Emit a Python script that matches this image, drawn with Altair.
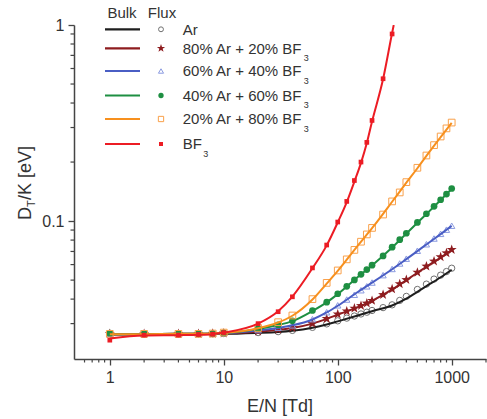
import altair as alt
import pandas as pd

# ---------------- data ----------------
X_FLUX = [1, 2, 4, 6, 8, 10, 20, 30, 40, 60, 80, 100, 120, 140, 160, 180, 200,
          250, 300, 350, 400, 500, 600, 700, 800, 900, 1000]
AR_FLUX = [0.0267, 0.0266, 0.0266, 0.0266, 0.0266, 0.0267, 0.0270, 0.0273, 0.0277, 0.0287,
           0.0299, 0.0310, 0.0320, 0.0328, 0.0336, 0.0343, 0.0350, 0.0362, 0.0374, 0.0394,
           0.0413, 0.0448, 0.0477, 0.0506, 0.0530, 0.0553, 0.0575]
AR80_FLUX = [0.0266, 0.0266, 0.0266, 0.0266, 0.0267, 0.0268, 0.0274, 0.0280, 0.0286, 0.0300,
             0.0318, 0.0335, 0.0347, 0.0359, 0.0370, 0.0381, 0.0393, 0.0421, 0.0450, 0.0478,
             0.0502, 0.0547, 0.0588, 0.0624, 0.0656, 0.0687, 0.0715]
AR60_FLUX = [0.0266, 0.0266, 0.0266, 0.0266, 0.0267, 0.0268, 0.0278, 0.0286, 0.0294, 0.0316,
             0.0343, 0.0372, 0.0398, 0.0421, 0.0444, 0.0465, 0.0486, 0.0530, 0.0570, 0.0608,
             0.0643, 0.0706, 0.0762, 0.0815, 0.0861, 0.0904, 0.0947]
AR40_FLUX = [0.0268, 0.0266, 0.0266, 0.0266, 0.0267, 0.0269, 0.0283, 0.0296, 0.0310, 0.0350,
             0.0386, 0.0426, 0.0465, 0.0501, 0.0535, 0.0566, 0.0596, 0.0664, 0.0736, 0.0804,
             0.0867, 0.0984, 0.1090, 0.1190, 0.1285, 0.1374, 0.1466]
AR20_FLUX = [0.0266, 0.0266, 0.0266, 0.0266, 0.0267, 0.0270, 0.0285, 0.0305, 0.0330, 0.0400,
             0.0484, 0.0560, 0.0638, 0.0713, 0.0785, 0.0855, 0.0923, 0.1080, 0.1260, 0.1400,
             0.1580, 0.1870, 0.2160, 0.2440, 0.2700, 0.2970, 0.3180]
X_FLUX_BF3 = [1, 2, 4, 6, 8, 10, 20, 30, 40, 60, 80, 100, 120, 140, 160, 180, 200, 250, 300]
BF3_FLUX = [0.0247, 0.0262, 0.0262, 0.0264, 0.0265, 0.0270, 0.0300, 0.0345, 0.0411, 0.0577,
            0.0755, 0.0989, 0.126, 0.161, 0.200, 0.252, 0.326, 0.532, 0.900]

X_BULK = [1, 2, 4, 6, 8, 10, 20, 30, 40, 60, 80, 100, 150, 200, 300, 400, 500, 600, 800, 1000]
AR_BULK = [0.0264, 0.0265, 0.0265, 0.0265, 0.0266, 0.0266, 0.0269, 0.0272, 0.0276, 0.0286,
           0.0297, 0.0308, 0.0330, 0.0347, 0.0371, 0.0402, 0.0436, 0.0466, 0.0517, 0.0565]
AR80_BULK = [0.0265, 0.0265, 0.0266, 0.0266, 0.0266, 0.0267, 0.0273, 0.0279, 0.0285, 0.0300,
             0.0317, 0.0333, 0.0364, 0.0392, 0.0448, 0.0500, 0.0545, 0.0585, 0.0652, 0.0712]
AR60_BULK = [0.0265, 0.0265, 0.0266, 0.0266, 0.0266, 0.0268, 0.0277, 0.0285, 0.0294, 0.0315,
             0.0342, 0.0370, 0.0435, 0.0485, 0.0568, 0.0640, 0.0703, 0.0760, 0.0858, 0.0945]
AR40_BULK = [0.0265, 0.0265, 0.0266, 0.0266, 0.0267, 0.0268, 0.0282, 0.0295, 0.0309, 0.0348,
             0.0385, 0.0424, 0.0518, 0.0594, 0.0733, 0.0863, 0.0980, 0.1085, 0.1280, 0.1460]
AR20_BULK = [0.0265, 0.0265, 0.0266, 0.0266, 0.0267, 0.0269, 0.0284, 0.0304, 0.0329, 0.0398,
             0.0480, 0.0557, 0.0750, 0.0920, 0.1255, 0.1570, 0.1860, 0.2150, 0.2680, 0.3170]
X_BULK_BF3 = [1, 2, 4, 6, 8, 10, 20, 30, 40, 60, 80, 100, 120, 140, 160, 180, 200, 250, 300, 310]
BF3_BULK = [0.0252, 0.0261, 0.0262, 0.0263, 0.0265, 0.0270, 0.0300, 0.0347, 0.0412, 0.0575,
            0.0752, 0.0985, 0.125, 0.159, 0.198, 0.250, 0.322, 0.530, 0.910, 1.000]

LABELS = ["Ar", "80% Ar + 20% BF", "60% Ar + 40% BF", "40% Ar + 60% BF", "20% Ar + 80% BF", "BF"]
X_TICKS = [1, 10, 100, 1000]
X_MINOR = [0.6, 0.7, 0.8, 0.9, 2, 3, 4, 5, 6, 7, 8, 9, 20, 30, 40, 50, 60, 70, 80, 90,
           200, 300, 400, 500, 600, 700, 800, 900, 2000]
Y_TICKS = [0.1, 1]
Y_MINOR = [0.03, 0.04, 0.05, 0.06, 0.07, 0.08, 0.09, 0.2, 0.3, 0.4, 0.5, 0.6, 0.7, 0.8, 0.9]

# ---------------- styling ----------------
STAR = ("M0,-1L0.235,-0.324L0.951,-0.309L0.38,0.124L0.588,0.809L0,0.4L-0.588,0.809"
        "L-0.38,0.124L-0.951,-0.309L-0.235,-0.324Z")
SERIES = [
    dict(bx=X_BULK, by=AR_BULK, fx=X_FLUX, fy=AR_FLUX, line="#1e1e1e", pc="#707070",
         shape="circle", filled=False, size=40, lsize=24),
    dict(bx=X_BULK, by=AR80_BULK, fx=X_FLUX, fy=AR80_FLUX, line="#8e1c1f", pc="#8e1c1f",
         shape=STAR, filled=True, size=110, lsize=75),
    dict(bx=X_BULK, by=AR60_BULK, fx=X_FLUX, fy=AR60_FLUX, line="#4a5ec4", pc="#8a9ae0",
         shape="triangle-up", filled=False, size=40, lsize=26),
    dict(bx=X_BULK, by=AR40_BULK, fx=X_FLUX, fy=AR40_FLUX, line="#1e8f42", pc="#1e8f42",
         shape="circle", filled=True, size=45, lsize=28),
    dict(bx=X_BULK, by=AR20_BULK, fx=X_FLUX, fy=AR20_FLUX, line="#f7901e", pc="#f9a04a",
         shape="square", filled=False, size=45, lsize=28),
    dict(bx=X_BULK_BF3, by=BF3_BULK, fx=X_FLUX_BF3, fy=BF3_FLUX, line="#ec1c24", pc="#ec1c24",
         shape="square", filled=True, size=22, lsize=16),
]

FONT = "Liberation Sans"
TXT = "#333333"
AX = "#444444"
W, H = 412, 334

xs = alt.Scale(type="log", domain=[0.485, 2000])
ys = alt.Scale(type="log", domain=[0.0198, 1])
x_axis = alt.Axis(values=X_TICKS, format="~g", title=None, grid=False, tickSize=6,
                  tickWidth=1.3, tickColor=AX, domainColor=AX, domainWidth=1.5,
                  labelFontSize=16, labelFont=FONT, labelColor=TXT, labelPadding=4,
                  labelFlush=False)
y_axis = alt.Axis(values=Y_TICKS, format="~g", title=None, grid=False, tickSize=6,
                  tickWidth=1.3, tickColor=AX, domainColor=AX, domainWidth=1.5,
                  labelFontSize=16, labelFont=FONT, labelColor=TXT, labelPadding=4,
                  labelFlush=False)


def X(f):
    return alt.X(f"{f}:Q", scale=xs, axis=x_axis)


def Y(f):
    return alt.Y(f"{f}:Q", scale=ys, axis=y_axis)


layers = []
# minor ticks
layers.append(alt.Chart(pd.DataFrame({"v": X_MINOR})).mark_rule(color=AX, strokeWidth=1.2)
              .encode(x=X("v"), y=alt.value(H), y2=alt.value(H + 3.5)))
layers.append(alt.Chart(pd.DataFrame({"v": Y_MINOR})).mark_rule(color=AX, strokeWidth=1.2)
              .encode(y=Y("v"), x=alt.value(-3.5), x2=alt.value(0)))

for s in SERIES:
    fdf = pd.DataFrame({"x": s["fx"], "y": s["fy"]})
    bdf = pd.DataFrame({"x": s["bx"], "y": s["by"]})
    layers.append(alt.Chart(fdf).mark_point(shape=s["shape"], filled=s["filled"], size=s["size"],
                                            color=s["pc"], strokeWidth=1, opacity=1, clip=True)
                  .encode(x=X("x"), y=Y("y")))
    layers.append(alt.Chart(bdf).mark_line(color=s["line"], strokeWidth=2, interpolate="monotone",
                                           clip=True)
                  .encode(x=X("x"), y=Y("y")))

# ---------------- legend (Bulk line / Flux symbol / label) ----------------
one = pd.DataFrame({"k": [0]})
OX, OY = 74, 25
ROWS = [29.3, 48.3, 71.0, 95.5, 119.0, 144.0]
LFS = 15
ARIAL_W = {"0": .556, "1": .556, "2": .556, "3": .556, "4": .556, "5": .556, "6": .556,
           "7": .556, "8": .556, "9": .556, "%": .889, " ": .278, "A": .667, "r": .333,
           "+": .584, "B": .667, "F": .611}

layers.append(alt.Chart(one).mark_text(text="Bulk", font=FONT, fontSize=15, color=TXT,
                                       align="center", baseline="alphabetic")
              .encode(x=alt.value(122 - OX), y=alt.value(18 - OY)))
layers.append(alt.Chart(one).mark_text(text="Flux", font=FONT, fontSize=15, color=TXT,
                                       align="center", baseline="alphabetic")
              .encode(x=alt.value(162 - OX), y=alt.value(18 - OY)))

for i, (s, lab) in enumerate(zip(SERIES, LABELS)):
    ry = ROWS[i] - OY
    layers.append(alt.Chart(one).mark_rule(color=s["line"], strokeWidth=2.2)
                  .encode(x=alt.value(105 - OX), x2=alt.value(140 - OX), y=alt.value(ry)))
    layers.append(alt.Chart(one).mark_point(shape=s["shape"], filled=s["filled"],
                                            size=s["lsize"], color=s["pc"],
                                            strokeWidth=1, opacity=1)
                  .encode(x=alt.value(161 - OX), y=alt.value(ry)))
    tx = 182.7 - OX
    layers.append(alt.Chart(one).mark_text(text=lab, font=FONT, fontSize=LFS, color=TXT,
                                           align="left", baseline="alphabetic")
                  .encode(x=alt.value(tx), y=alt.value(ry + 5.4)))
    if i > 0:
        wpx = sum(ARIAL_W.get(c, .556) for c in lab) * LFS
        layers.append(alt.Chart(one).mark_text(text="3", font=FONT, fontSize=9, color=TXT,
                                               align="left", baseline="alphabetic")
                      .encode(x=alt.value(tx + wpx + 1.5), y=alt.value(ry + 12.5)))

# ---------------- axis titles ----------------
layers.append(alt.Chart(one).mark_text(text="E/N [Td]", font=FONT, fontSize=18, color=TXT,
                                       align="center", baseline="alphabetic")
              .encode(x=alt.value(280 - OX), y=alt.value(411.5 - OY)))
# y title: D_T/K [eV] (rotated, with subscript T)
layers.append(alt.Chart(one).mark_text(text="D", font=FONT, fontSize=18, color=TXT, angle=270,
                                       align="left", baseline="alphabetic")
              .encode(x=alt.value(30.5 - OX), y=alt.value(220 - OY)))
layers.append(alt.Chart(one).mark_text(text="T", font=FONT, fontSize=11, color=TXT, angle=270,
                                       align="left", baseline="alphabetic")
              .encode(x=alt.value(35 - OX), y=alt.value(220 - 13 - OY)))
layers.append(alt.Chart(one).mark_text(text="/K [eV]", font=FONT, fontSize=18, color=TXT,
                                       angle=270, align="left", baseline="alphabetic")
              .encode(x=alt.value(30.5 - OX), y=alt.value(220 - 13 - 6.9 - OY)))

chart = alt.layer(*layers).properties(
    width=W, height=H,
    padding={"left": OX, "top": OY, "right": 487 - OX - W, "bottom": 419 - OY - H},
    autosize=alt.AutoSizeParams(type="none"),
    background="white",
).configure_view(stroke=None)

chart.save("out.html", embed_options={"renderer": "svg", "actions": False})
